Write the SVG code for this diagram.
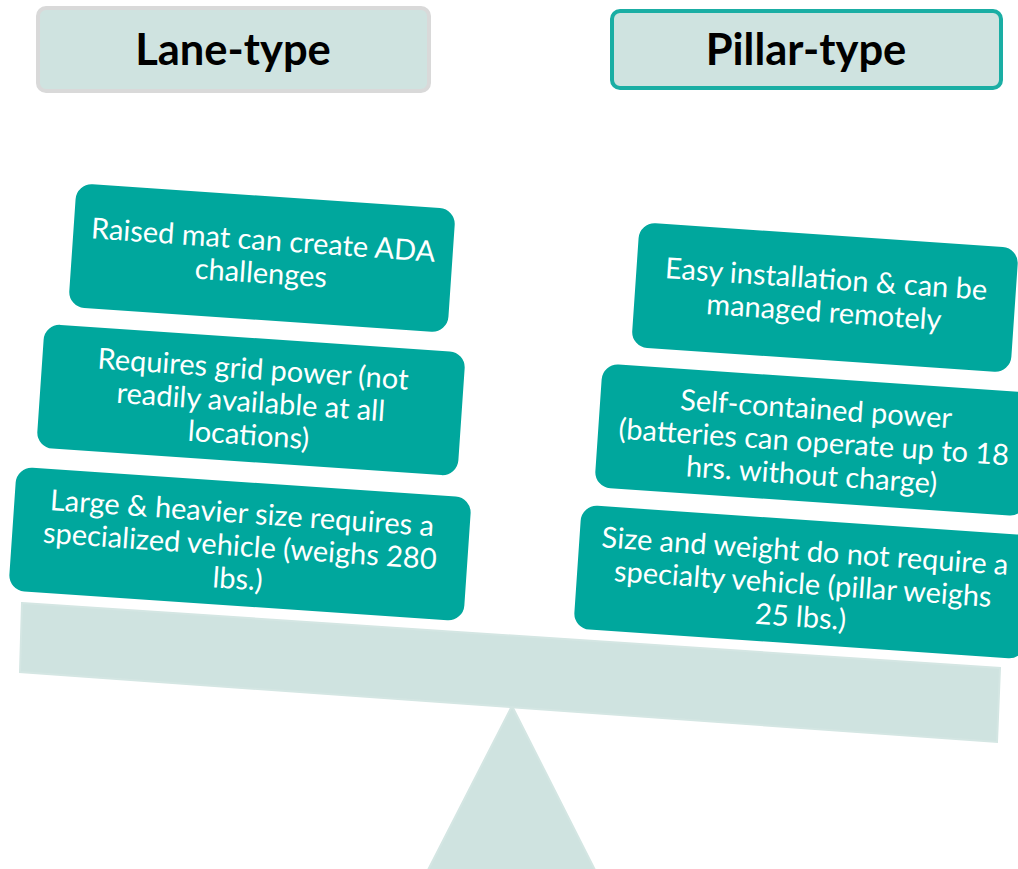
<svg xmlns="http://www.w3.org/2000/svg" width="1018" height="869" viewBox="0 0 1018 869">
<style>
.hdr{fill:#CFE3E0;stroke-width:4}
.hdrt{font-family:Lato,"Open Sans",sans-serif;font-weight:bold;font-size:43.5px;fill:#000;text-anchor:middle}
.box{fill:#00A79D}
.bt{font-family:Lato,"Open Sans",sans-serif;font-size:29px;fill:#fff;text-anchor:middle}
.base{fill:#CFE3E0;stroke:#D4E6E3;stroke-width:2}
</style>
<rect width="1018" height="869" fill="#fff"/>
<g id="fulcrum"><polygon class="base" points="512,706 428,870 595,870"/></g>
<g id="beam"><polygon class="base" points="22,603 1000,668 997,742 20,672"/></g>
<g id="lane-header">
<rect class="hdr" x="38" y="8" width="391" height="83" rx="8" stroke="#D9D9D9"/>
<text class="hdrt" x="233" y="65">Lane-type</text>
</g>
<g id="pillar-header">
<rect class="hdr" x="612" y="11" width="389" height="77" rx="8" stroke="#1AAEA4"/>
<text class="hdrt" x="806" y="65">Pillar-type</text>
</g>
<g id="lane-1" transform="translate(262,258) rotate(3.9)">
<rect class="box" x="-190" y="-62" width="380" height="124" rx="16"/>
<text class="bt" y="-8">Raised mat can create ADA</text>
<text class="bt" y="25">challenges</text>
</g>
<g id="lane-2" transform="translate(251,400) rotate(3.9)">
<rect class="box" x="-211" y="-62" width="422" height="124" rx="16"/>
<text class="bt" y="-21">Requires grid power (not</text>
<text class="bt" y="12">readily available at all</text>
<text class="bt" y="45">locations)</text>
</g>
<g id="lane-3" transform="translate(240,544) rotate(3.9)">
<rect class="box" x="-228" y="-62" width="456" height="124" rx="16"/>
<text class="bt" y="-21">Large &amp; heavier size requires a</text>
<text class="bt" y="12">specialized vehicle (weighs 280</text>
<text class="bt" y="45">lbs.)</text>
</g>
<g id="pillar-1" transform="translate(825,297) rotate(3.9)">
<rect class="box" x="-190" y="-62" width="380" height="125" rx="16"/>
<text class="bt" y="-8">Easy installation &amp; can be</text>
<text class="bt" y="25">managed remotely</text>
</g>
<g id="pillar-2" transform="translate(814,440) rotate(3.9)">
<rect class="box" x="-216" y="-62" width="432" height="124" rx="16"/>
<text class="bt" y="-21">Self-contained power</text>
<text class="bt" y="12">(batteries can operate up to 18</text>
<text class="bt" y="45">hrs. without charge)</text>
</g>
<g id="pillar-3" transform="translate(803,582) rotate(3.9)">
<rect class="box" x="-226" y="-62" width="452" height="124" rx="16"/>
<text class="bt" y="-21">Size and weight do not require a</text>
<text class="bt" y="12">specialty vehicle (pillar weighs</text>
<text class="bt" y="45">25 lbs.)</text>
</g>
<g id="connectors"/>
</svg>
